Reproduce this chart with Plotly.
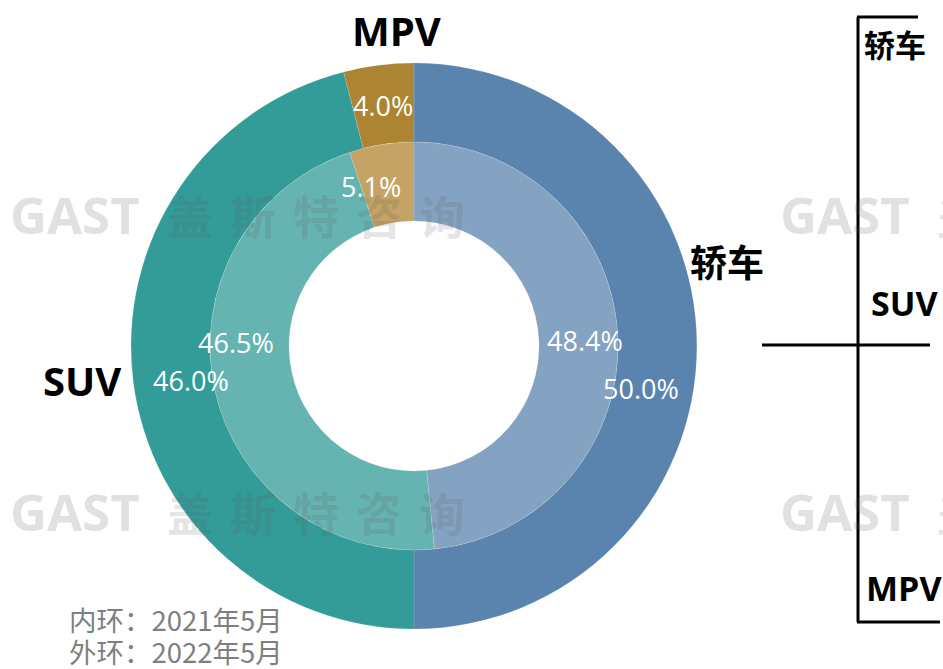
import plotly.graph_objects as go

W, H = 943, 669

categories = ["轿车", "SUV", "MPV"]
outer_2022 = [50.0, 46.0, 4.0]
inner_2021 = [48.4, 46.5, 5.1]
outer_colors = ["#5A84AE", "#339B98", "#AD8431"]
inner_colors = ["#84A3C2", "#66B4B2", "#C4A365"]
legend_labels = ["轿车", "SUV", "MPV"]
note_lines = ["内环：2021年5月", "外环：2022年5月"]
wm_latin = "GAST"
wm_cjk = ["盖", "斯", "特", "咨", "询"]

FONT = "Open Sans, Noto Sans CJK SC, sans-serif"
CJK = "Noto Sans CJK SC, sans-serif"

def px(x):
    return x / W

def py(y):
    return 1 - y / H

cx, cy = 414, 346
R_out, R_mid, R_in = 283, 204, 125

fig = go.Figure()
fig.add_trace(go.Pie(
    labels=categories, values=outer_2022, sort=False, direction="clockwise",
    rotation=0, hole=R_mid / R_out,
    marker=dict(colors=outer_colors, line=dict(color="rgba(255,255,255,0.25)", width=0.5)),
    textinfo="none", hoverinfo="label+value", showlegend=False,
    domain=dict(x=[px(cx - R_out), px(cx + R_out)], y=[py(cy + R_out), py(cy - R_out)]),
))
fig.add_trace(go.Pie(
    labels=categories, values=inner_2021, sort=False, direction="clockwise",
    rotation=0, hole=R_in / R_mid,
    marker=dict(colors=inner_colors, line=dict(color="rgba(255,255,255,0.25)", width=0.5)),
    textinfo="none", hoverinfo="label+value", showlegend=False,
    domain=dict(x=[px(cx - R_mid), px(cx + R_mid)], y=[py(cy + R_mid), py(cy - R_mid)]),
))

ann = []

def add(x, y, text, font, xanchor="center"):
    ann.append(dict(x=px(x), y=py(y), xref="paper", yref="paper", text=text,
                    showarrow=False, xanchor=xanchor, yanchor="middle", font=font))

# watermarks (drawn first, below other text)
wm_color = "rgba(90,90,90,0.18)"
for (x0, y) in [(10, 214), (780, 214), (10, 511), (780, 511)]:
    add(x0 - 2, y, f"<b>{wm_latin}</b>", dict(family=FONT, size=51, color=wm_color), xanchor="left")
    for i, ch in enumerate(wm_cjk):
        xc = x0 + 180 + i * 63
        if xc - 24 > W:
            continue
        add(xc, y, f"<b>{ch}</b>", dict(family=CJK, size=46, color=wm_color))

# percentage labels
outer_pos = [(641, 388), (191, 380), (383, 106)]
inner_pos = [(585, 340), (236, 342), (371, 186)]
for v, (x, y) in zip(outer_2022, outer_pos):
    add(x, y, f"{v:.1f}%", dict(family=FONT, size=27, color="white"))
for v, (x, y) in zip(inner_2021, inner_pos):
    add(x, y, f"{v:.1f}%", dict(family=FONT, size=27, color="white"))

# category labels around the ring
cat_pos = [(727, 262), (82, 380), (396, 31)]
cat_size = [37, 40, 40]
for c, (x, y), s in zip(categories, cat_pos, cat_size):
    add(x, y, f"<b>{c}</b>", dict(family=FONT, size=s, color="black"))

# right-side labels
leg_pos = [(895, 45), (904, 303), (904, 588)]
leg_size = [31, 34, 34]
for c, (x, y), s in zip(legend_labels, leg_pos, leg_size):
    add(x, y, f"<b>{c}</b>", dict(family=FONT, size=s, color="black"))

# notes
for i, t in enumerate(note_lines):
    add(67, 619 + i * 32, t, dict(family=CJK, size=27.5, color="#7F7F7F"), xanchor="left")

shapes = []
def line(x0, y0, x1, y1):
    shapes.append(dict(type="line", xref="paper", yref="paper",
                       x0=px(x0), y0=py(y0), x1=px(x1), y1=py(y1),
                       line=dict(color="black", width=3)))
line(858, 17, 858, 622)
line(857, 17, 918, 17)
line(857, 622, 940, 622)
line(762, 345, 930, 345)

fig.update_layout(
    width=W, height=H, margin=dict(l=0, r=0, t=0, b=0),
    paper_bgcolor="white", plot_bgcolor="white",
    annotations=ann, shapes=shapes, showlegend=False,
)
fig.write_html("out.html", config={"displayModeBar": False},
               post_script="document.body.style.margin='0';document.body.style.overflow='hidden';")
